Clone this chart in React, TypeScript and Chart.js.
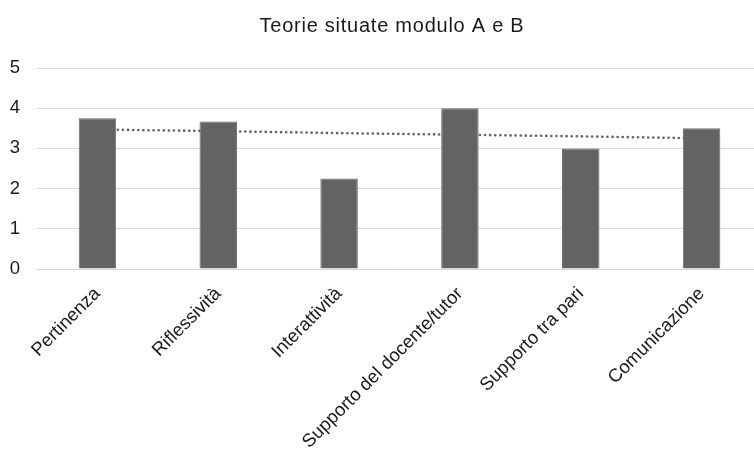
import React, { useEffect, useRef } from "react";
import { Chart, registerables } from "chart.js";

Chart.register(...registerables);

const categories = [
  "Pertinenza",
  "Riflessività",
  "Interattività",
  "Supporto del docente/tutor",
  "Supporto tra pari",
  "Comunicazione",
];
const scores = [3.75, 3.67, 2.25, 4.0, 3.0, 3.5];
const trend = [3.47, 3.43, 3.38, 3.34, 3.3, 3.25];
const yTicks = [0, 1, 2, 3, 4, 5];
const title = "Teorie situate modulo A e B";

const FONT = "'Liberation Sans', Arial, Helvetica, sans-serif";

const titleSpacing = {
  id: "titleSpacing",
  afterInit(chart: any) {
    const tb = chart.titleBlock;
    if (!tb) return;
    const orig = tb.draw.bind(tb);
    tb.draw = (area: any) => {
      const ctx = chart.ctx as any;
      ctx.save();
      ctx.letterSpacing = "0.75px";
      ctx.translate(11, 0);
      orig(area);
      ctx.restore();
    };
  },
};

export default function App() {
  const ref = useRef<HTMLCanvasElement | null>(null);

  useEffect(() => {
    if (!ref.current) return;
    const chart = new Chart(ref.current, {
      type: "bar",
      data: {
        labels: categories,
        datasets: [
          {
            type: "bar",
            data: scores,
            backgroundColor: "#636363",
            borderColor: "#6e6e6e",
            borderWidth: 1,
            barPercentage: 0.31,
            categoryPercentage: 1,
            order: 1,
          },
          {
            type: "line",
            data: trend,
            borderColor: "#646464",
            borderWidth: 2.6,
            borderDash: [0.1, 5],
            borderCapStyle: "round",
            pointRadius: 0,
            fill: false,
            order: 2,
          } as any,
        ],
      },
      options: {
        responsive: false,
        animation: false,
        devicePixelRatio: 1,
        layout: { padding: { left: 0, right: 20, top: 0, bottom: 0 } },
        plugins: {
          legend: { display: false },
          tooltip: { enabled: false },
          title: {
            display: true,
            text: title,
            color: "#1a1a1a",
            font: { family: FONT, size: 20, weight: "normal", lineHeight: 1.2 },
            padding: { top: 14, bottom: 30 },
          },
        },
        scales: {
          x: {
            grid: { display: false },
            border: { display: false },
            ticks: {
              color: "#1a1a1a",
              font: { family: FONT, size: 18.5 },
              minRotation: 45,
              maxRotation: 45,
              autoSkip: false,
              padding: 6,
            },
            afterFit: (s: any) => {
              s.height = 188;
              s.paddingLeft = 0;
              s.paddingRight = 0;
            },
          },
          y: {
            min: 0,
            max: 5,
            afterBuildTicks: (s: any) => {
              s.ticks = yTicks.map((v) => ({ value: v }));
            },
            grid: { color: "#d9d9d9", lineWidth: 1, drawTicks: false },
            border: { display: false },
            ticks: {
              color: "#1a1a1a",
              font: { family: FONT, size: 18.5 },
              padding: 17,
            },
            afterFit: (s: any) => {
              s.width = 37;
              s.paddingTop = 0;
              s.paddingBottom = 0;
            },
          },
        },
      },
      plugins: [titleSpacing],
    });
    return () => chart.destroy();
  }, []);

  return (
    <div
      style={{
        position: "fixed",
        left: 0,
        top: 0,
        width: 754,
        height: 457,
        overflow: "hidden",
        background: "#fff",
      }}
    >
      <canvas ref={ref} width={782} height={457} style={{ width: 782, height: 457, display: "block" }} />
    </div>
  );
}
